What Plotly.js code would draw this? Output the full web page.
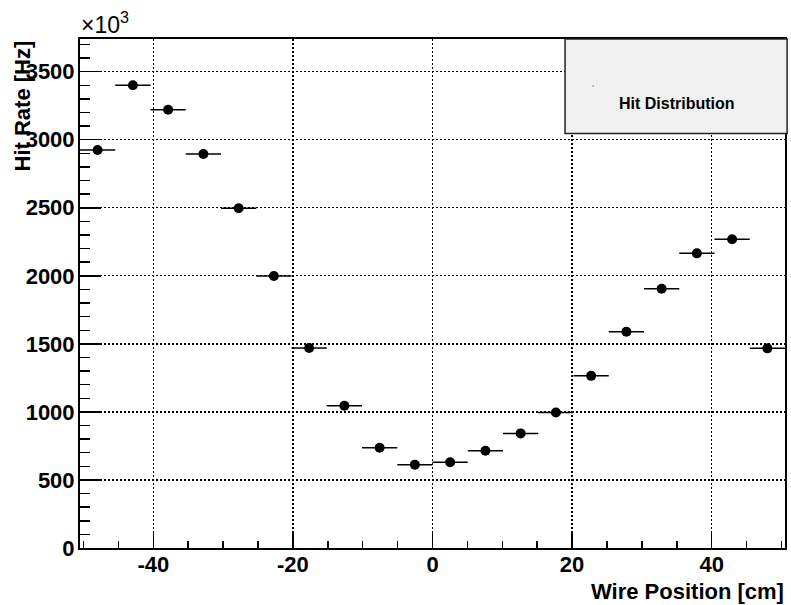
<!DOCTYPE html>
<html>
<head>
<meta charset="utf-8">
<script src="https://cdn.plot.ly/plotly-3.0.1.min.js"></script>
<style>html,body{margin:0;padding:0;background:#fff;}#chart{width:791px;height:605px;}</style>
</head>
<body>
<div id="chart"></div>
<script>
// Bin centers (cm), 20 bins spanning -50.5 .. 50.5
const binLow = -50.5;
const binWidth = 5.05;
const wirePosition = [-47.975, -42.925, -37.875, -32.825, -27.775, -22.725, -17.675, -12.625, -7.575, -2.525,
                      2.525, 7.575, 12.625, 17.675, 22.725, 27.775, 32.825, 37.875, 42.925, 47.975];
// Hit rate (x10^3 Hz)
const hitRate = [2925, 3400, 3220, 2895, 2497, 1998, 1469, 1045, 737, 612,
                 630, 714, 842, 996, 1265, 1589, 1905, 2165, 2268, 1467];
const halfWidths = wirePosition.map(() => binWidth / 2);

const xTickVals = [-40, -20, 0, 20, 40];
const xTickText = ['-40', '-20', '0', '20', '40'];
const yTickVals = [0, 500, 1000, 1500, 2000, 2500, 3000, 3500];
const yTickText = ['0', '500', '1000', '1500', '2000', '2500', '3000', '3500'];

const FONT = "Liberation Sans, Arial, Helvetica, sans-serif";

const trace = {
  type: 'scatter',
  mode: 'markers',
  x: wirePosition,
  y: hitRate,
  marker: {symbol: 'circle', size: 10, color: 'black'},
  error_x: {type: 'data', array: halfWidths, visible: true, width: 0, thickness: 1.5, color: 'black'},
  showlegend: false,
  hoverinfo: 'x+y'
};

const layout = {
  width: 791, height: 605,
  margin: {l: 80, r: 6, t: 39, b: 57},
  paper_bgcolor: 'white', plot_bgcolor: 'white',
  font: {family: FONT, color: 'black'},
  showlegend: false,
  xaxis: {
    range: [binLow, binLow + 20 * binWidth],
    tickmode: 'array', tickvals: xTickVals, ticktext: xTickText,
    ticks: 'inside', ticklen: 15, tickwidth: 1.5, tickcolor: 'black',
    ticklabelstandoff: -4,
    minor: {dtick: 5, tick0: 0, ticks: 'inside', ticklen: 7, tickwidth: 1.5, tickcolor: 'black', showgrid: false},
    showgrid: true, gridcolor: 'black', griddash: '2px,2px', gridwidth: 1.3,
    zeroline: false,
    showline: true, linecolor: 'black', linewidth: 2, mirror: true,
    tickfont: {family: FONT, size: 22, weight: 'bold', color: 'black'}
  },
  yaxis: {
    range: [0, 3740],
    tickmode: 'array', tickvals: yTickVals, ticktext: yTickText,
    ticks: 'inside', ticklen: 21, tickwidth: 1.5, tickcolor: 'black',
    ticklabelstandoff: -1,
    minor: {dtick: 100, tick0: 0, ticks: 'inside', ticklen: 10, tickwidth: 1.5, tickcolor: 'black', showgrid: false},
    showgrid: true, gridcolor: 'black', griddash: '2px,2px', gridwidth: 1.3,
    zeroline: false,
    showline: true, linecolor: 'black', linewidth: 2, mirror: true,
    tickfont: {family: FONT, size: 22, weight: 'bold', color: 'black'}
  },
  shapes: [
    {type: 'rect', xref: 'paper', yref: 'paper', x0: 0.688, x1: 1.003, y0: 0.8143, y1: 1.0,
     fillcolor: '#f0f0f0', line: {color: '#222', width: 1.5}, layer: 'above'},
    {type: 'circle', xref: 'paper', yref: 'paper', x0: 0.7268, x1: 0.7290, y0: 0.9067, y1: 0.9087,
     fillcolor: '#444', line: {width: 0}, layer: 'above'}
  ],
  annotations: [
    {text: 'Hit Distribution', xref: 'paper', yref: 'paper', x: 0.847, y: 0.874,
     xanchor: 'center', yanchor: 'middle', showarrow: false,
     font: {family: FONT, size: 16, weight: 'bold', color: 'black'}},
    {text: '×10<sup>3</sup>', xref: 'paper', yref: 'paper', x: 0, y: 1.0, yshift: 0,
     xanchor: 'left', yanchor: 'bottom', showarrow: false, borderpad: 0,
     font: {family: FONT, size: 23, color: 'black'}},
    {text: 'Wire Position [cm]', xref: 'paper', yref: 'paper', x: 1.0, y: 0, yshift: -30,
     xanchor: 'right', yanchor: 'top', showarrow: false, borderpad: 0,
     font: {family: FONT, size: 22, weight: 'bold', color: 'black'}},
    {text: 'Hit Rate [Hz]', xref: 'paper', yref: 'paper', x: 0, xshift: -58, y: 1.0,
     xanchor: 'center', yanchor: 'top', textangle: -90, showarrow: false,
     font: {family: FONT, size: 22, weight: 'bold', color: 'black'}}
  ]
};

Plotly.newPlot('chart', [trace], layout, {displayModeBar: false, staticPlot: true});
</script>
</body>
</html>
